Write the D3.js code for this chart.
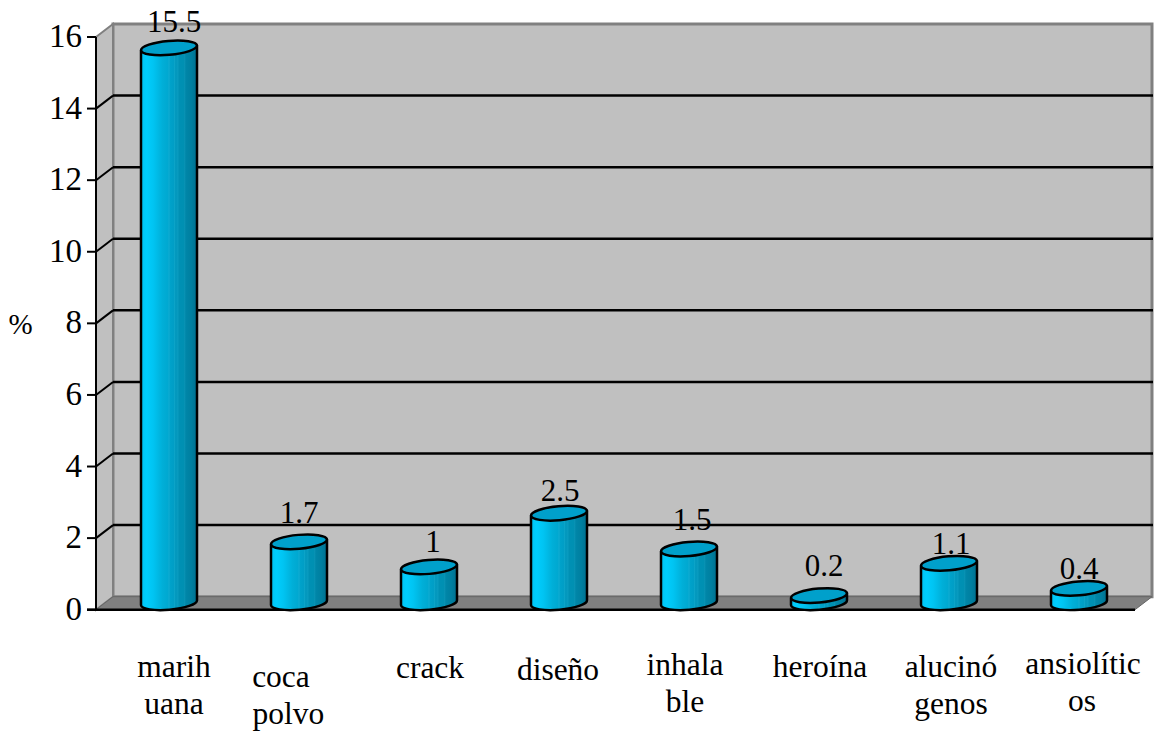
<!DOCTYPE html>
<html>
<head>
<meta charset="utf-8">
<script src="https://cdnjs.cloudflare.com/ajax/libs/d3/7.8.5/d3.min.js"></script>
<style>
html,body{margin:0;padding:0;background:#fff}
svg{display:block}
text{font-family:"Liberation Serif","Times New Roman",serif;fill:#000}
</style>
</head>
<body>
<svg id="chart" width="1156" height="732"></svg>
<script>
// Lifetime drug use, percent by substance
const categories = ["marih|uana","coca|polvo","crack","diseño","inhala|ble","heroína","alucinó|genos","ansiolític|os"];
const values = [15.5,1.7,1,2.5,1.5,0.2,1.1,0.4];
const valueLabels = ["15.5","1.7","1","2.5","1.5","0.2","1.1","0.4"];
const yTicks = [0,2,4,6,8,10,12,14,16];
const yTitle = "%";

// Hand placement of the text around each bar
const labelBaselines = [677,687,678,680,675,677,677,674];
const labelShifts = [[5,5],[-18,-10.5],[1],[-1],[-4,-4],[1],[2,2],[4,3]];
const valueShifts = [5,0,4,1,3,5,2,0];
const valueLifts = [15.6,18.6,14.7,12,18.8,19.3,9,9.2];

const svg = d3.select("#chart");
const y = d3.scaleLinear().domain([0,16]).range([609.7,37]);
const x = d3.scaleBand().domain(categories).range([104,1144]);
const depthX = 17, depthY = -13;
const left = 96, right = 1135;

// Cylinder side shading, with the fine banding of a stepped fill
const defs = svg.append("defs");
const grad = defs.append("linearGradient").attr("id","side");
[[0,"#00c4f4"],[0.1,"#00cdfd"],[0.22,"#00c4f2"],[0.38,"#00afd8"],[0.48,"#00a8d0"],[0.5,"#10acd2"],[0.52,"#00a2ca"],
 [0.58,"#009ec6"],[0.6,"#0da4c8"],[0.62,"#0096bc"],[0.66,"#0a9cc0"],[0.68,"#0090b4"],[0.76,"#0090b2"],[0.78,"#0a92b4"],
 [0.8,"#0086a8"],[0.9,"#007fa0"],[1,"#00708f"]]
  .forEach(([o,c])=>grad.append("stop").attr("offset",o).attr("stop-color",c));

// Back wall, side wall, floor
const g = svg.append("g");
g.append("polygon").attr("fill","#c0c0c0").attr("stroke","#808080").attr("stroke-width",3)
  .attr("points",[[left+depthX,y(16)+depthY],[right+depthX,y(16)+depthY],[right+depthX,y(0)+depthY],[left+depthX,y(0)+depthY]].join(" "));
g.append("polygon").attr("fill","#c0c0c0").attr("stroke","#808080").attr("stroke-width",2)
  .attr("points",[[left,y(16)],[left+depthX,y(16)+depthY],[left+depthX,y(0)+depthY],[left,y(0)]].join(" "));
g.append("polygon").attr("fill","#808080").attr("stroke","#666").attr("stroke-width",1)
  .attr("points",[[left,y(0)],[left+depthX,y(0)+depthY],[right+depthX,y(0)+depthY],[right,y(0)]].join(" "));

// Gridlines run along the side wall and across the back wall
yTicks.filter(t=>t>0 && t<16).forEach(t=>{
  g.append("line").attr("x1",left+depthX).attr("x2",right+depthX+1).attr("y1",y(t)+depthY).attr("y2",y(t)+depthY)
    .attr("stroke","#000").attr("stroke-width",2.5);
  g.append("line").attr("x1",left).attr("x2",left+depthX).attr("y1",y(t)).attr("y2",y(t)+depthY)
    .attr("stroke","#000").attr("stroke-width",2);
});

// Value axis and floor edge
g.append("line").attr("x1",left).attr("x2",left).attr("y1",y(16)).attr("y2",y(0)).attr("stroke","#000").attr("stroke-width",2);
g.append("line").attr("x1",left-9).attr("x2",right).attr("y1",y(0)).attr("y2",y(0)).attr("stroke","#000").attr("stroke-width",2.5);
yTicks.forEach(t=>{
  g.append("line").attr("x1",left-9).attr("x2",left).attr("y1",y(t)).attr("y2",y(t)).attr("stroke","#000").attr("stroke-width",2);
  g.append("text").attr("x",left-14).attr("y",y(t)+10).attr("text-anchor","end").attr("font-size",33).text(t);
});
g.append("text").attr("x",20.5).attr("y",334).attr("text-anchor","middle").attr("font-size",29).text(yTitle);

// Cylinders: a body from floor to value, then a tilted elliptical cap
const rx = 28, ry = 7, baseOffset = -7, tilt = -5;
const slope = Math.tan(tilt*Math.PI/180)*rx;
categories.forEach((c,i)=>{
  const cx = x(c) + x.bandwidth()/2;
  const bottom = y(0) + baseOffset;
  const top = y(values[i]) + baseOffset;
  const b = svg.append("g");
  b.append("path").attr("fill","url(#side)").attr("stroke","#000").attr("stroke-width",2.5).attr("stroke-linejoin","round")
    .attr("d",`M${cx-rx},${top-slope}L${cx-rx},${bottom-slope}A${rx},${ry} ${tilt} 0 0 ${cx+rx},${bottom+slope}L${cx+rx},${top+slope}Z`);
  b.append("ellipse").attr("cx",cx).attr("cy",top).attr("rx",rx).attr("ry",ry)
    .attr("transform",`rotate(${tilt} ${cx} ${top})`)
    .attr("fill","#00a0cb").attr("stroke","#000").attr("stroke-width",2.5);
  // Value above the cap
  svg.append("text").attr("x",cx+valueShifts[i]).attr("y",top-valueLifts[i]).attr("text-anchor","middle").attr("font-size",31)
    .text(valueLabels[i]);

  // Category name, broken over two lines where needed
  const t = svg.append("text").attr("text-anchor","middle").attr("font-size",31.5);
  c.split("|").forEach((line,k)=>{
    t.append("tspan").attr("x",cx+labelShifts[i][k]).attr("y",labelBaselines[i]+k*37).text(line);
  });
});
</script>
</body>
</html>
